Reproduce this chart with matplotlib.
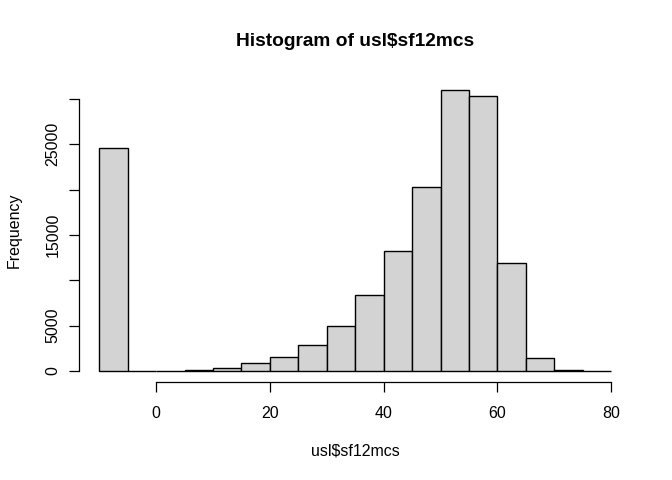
import matplotlib
matplotlib.use("Agg")
import matplotlib.pyplot as plt
import numpy as np

plt.rcParams['font.family'] = ['Liberation Sans', 'DejaVu Sans']

bin_edges = [-10, -5, 0, 5, 10, 15, 20, 25, 30, 35, 40, 45, 50, 55, 60, 65, 70, 75, 80]
counts = [24610, 0, 0, 110, 300, 850, 1510, 2840, 4930, 8390, 13210, 20280, 30990, 30320, 11890, 1400, 80, 5]
x_ticks = [0, 20, 40, 60, 80]
y_ticks = [0, 5000, 10000, 15000, 20000, 25000, 30000]
y_tick_labels = ['0', '5000', '', '15000', '', '25000', '']

W, H = 672, 480
fig = plt.figure(figsize=(W / 100, H / 100), dpi=100)
left, right, top, bottom = 78.7, 40.3, 78.7, 97.9
ax = fig.add_axes([left / W, bottom / H, (W - left - right) / W, (H - top - bottom) / H])

edges = np.array(bin_edges, dtype=float)
ax.hist(edges[:-1], bins=edges, weights=counts, color='#D3D3D3', edgecolor='black', linewidth=1.0)

xr = edges[-1] - edges[0]
ax.set_xlim(edges[0] - 0.04 * xr, edges[-1] + 0.04 * xr)
ymax = max(counts)
ax.set_ylim(-0.04 * ymax, 1.04 * ymax)

for s in ['top', 'right']:
    ax.spines[s].set_visible(False)
ax.spines['bottom'].set_bounds(x_ticks[0], x_ticks[-1])
ax.spines['left'].set_bounds(y_ticks[0], y_ticks[-1])
ax.spines['bottom'].set_linewidth(0.9)
ax.spines['left'].set_linewidth(0.9)

ax.set_xticks(x_ticks)
ax.set_xticklabels([str(t) for t in x_ticks], fontsize=11.5)
ax.set_yticks(y_ticks)
ax.set_yticklabels(y_tick_labels, fontsize=11.5, rotation=90, va='center')
ax.tick_params(axis='both', length=7, width=0.9, direction='out')
ax.tick_params(axis='x', pad=10)
ax.tick_params(axis='y', pad=6)

fig.text((left + (W - right)) / 2 / W, 1 - 42 / H, 'Histogram of usl\\$sf12mcs',
         ha='center', va='center', fontsize=13.8, fontweight='bold')
fig.text((left + (W - right)) / 2 / W, 1 - 451 / H, 'usl\\$sf12mcs',
         ha='center', va='center', fontsize=11.5)
fig.text(14 / W, 1 - ((top + (H - bottom)) / 2) / H, 'Frequency',
         ha='center', va='center', fontsize=11.5, rotation=90)

fig.savefig('out.png', dpi=100)
